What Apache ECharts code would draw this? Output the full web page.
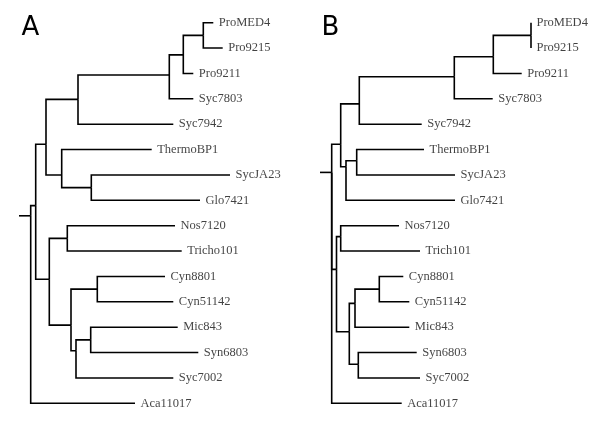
<!DOCTYPE html>
<html>
<head>
<meta charset="utf-8">
<script src="https://cdn.jsdelivr.net/npm/echarts@6/dist/echarts.min.js"></script>
<style>html,body{margin:0;padding:0;background:#fff;}#c{width:600px;height:423px;}</style>
</head>
<body>
<div id="c"></div>
<script>
// ---------- Tree A ----------
const leavesA = ['ProMED4','Pro9215','Pro9211','Syc7803','Syc7942','ThermoBP1','SycJA23','Glo7421','Nos7120','Tricho101','Cyn8801','Cyn51142','Mic843','Syn6803','Syc7002','Aca11017'];
const leafDepthA = [182.6,192,162.6,162.6,142.6,121,199.3,169.3,144.3,151,134.3,142.6,147,167.6,142.6,104.3];
const leafParentA = ['PM','PM','P3','P4','P5','Th','Th2','Th2','NT','NT','C2','C2','MS','MS','MSS','root'];
const nodeA = ['root','in','top','P5','P4','P3','PM','Th','Th2','bot','NT','cyn','C2','MSS','MS'];
const nodeParentA = [null,'root','in','top','P5','P4','P3','top','Th','in','bot','bot','cyn','cyn','MSS'];
const nodeDepthA = [0,5,15.3,47.3,138.6,152.6,172.6,31,60.6,18.6,36.6,40.3,66.6,45.3,60];
const nodeYA = [7.61,7.21,4.79,3.02,2.06,1.27,0.5,6.0,6.5,10.11,8.5,11.92,10.5,12.93,12.5];
const stubA = -11.7;

// ---------- Tree B ----------
const leavesB = ['ProMED4','Pro9215','Pro9211','Syc7803','Syc7942','ThermoBP1','SycJA23','Glo7421','Nos7120','Trich101','Cyn8801','Cyn51142','Mic843','Syn6803','Syc7002','Aca11017'];
const leafDepthB = [199.3,199.3,190,161,90,92.3,123.3,123.3,67.3,88.3,71.6,77.6,77.6,85,88.3,70];
const leafParentB = ['PM','PM','P3','P4','P5','Th2','Th2','Th','NT','NT','C2','C2','CMs','SS','SS','root'];
const nodeB = ['root','top','P5','P4','P3','PM','Th','Th2','bot','NT','cya','CMs','C2','SS'];
const nodeParentB = [null,'root','top','P5','P4','P3','top','Th','root','bot','bot','cya','CMs','cya'];
const nodeDepthB = [0,9,27.6,122.6,161.6,199.3,14.3,25,4.8,9,17.6,23.3,47.6,26.6];
const nodeYB = [5.9,4.79,3.2,2.13,1.34,0.5,5.68,5.44,9.72,8.43,12.18,11.06,10.5,13.46];
const stubB = -11.7;

const panelLabels = ['A','B'];

function buildEdges(leaves, leafDepth, leafParent, nodes, nodeParent, nodeDepth, nodeY, stub){
  const depth = {}, ypos = {};
  nodes.forEach((n,i)=>{depth[n]=nodeDepth[i]; ypos[n]=nodeY[i];});
  const edges = [];
  nodes.forEach((n,i)=>{
    const p = nodeParent[i];
    if(p) edges.push([depth[p], ypos[p], nodeY[i], nodeDepth[i]]);
    else edges.push([stub, nodeY[i], nodeY[i], nodeDepth[i]]);
  });
  leaves.forEach((l,i)=>{
    const p = leafParent[i];
    edges.push([depth[p], ypos[p], i, leafDepth[i]]);
  });
  return edges;
}
function buildLabels(leaves, leafDepth){
  return leaves.map((l,i)=>[leafDepth[i], i, l]);
}

const edgesA = buildEdges(leavesA, leafDepthA, leafParentA, nodeA, nodeParentA, nodeDepthA, nodeYA, stubA);
const edgesB = buildEdges(leavesB, leafDepthB, leafParentB, nodeB, nodeParentB, nodeDepthB, nodeYB, stubB);

function renderEdge(params, api){
  const a = api.coord([api.value(0), api.value(1)]);
  const b = api.coord([api.value(0), api.value(2)]);
  const c = api.coord([api.value(3), api.value(2)]);
  return {type:'polyline', shape:{points:[a,b,c]}, style:{stroke:'#000', lineWidth:1.6, fill:null, lineJoin:'miter', lineCap:'butt'}};
}

const chart = echarts.init(document.getElementById('c'), null, {renderer:'canvas'});
const labelStyle = {show:true, position:'right', distance:5.5, fontFamily:'Liberation Serif', fontSize:12.5, color:'#111', formatter:p=>p.value[2]};
chart.setOption({
  animation:false,
  grid:[
    {left:10.7, top:22.7, width:280, height:380.6},
    {left:311.7, top:22.7, width:280, height:380.6}
  ],
  xAxis:[
    {type:'value', gridIndex:0, min:-20, max:260, show:false},
    {type:'value', gridIndex:1, min:-20, max:260, show:false}
  ],
  yAxis:[
    {type:'value', gridIndex:0, min:0, max:15, inverse:true, show:false},
    {type:'value', gridIndex:1, min:0, max:15, inverse:true, show:false}
  ],
  graphic:[
    {type:'text', left:21.5, top:15, style:{text:panelLabels[0], font:'26px "DejaVu Sans"', fill:'#000'}},
    {type:'text', left:321.5, top:15, style:{text:panelLabels[1], font:'26px "DejaVu Sans"', fill:'#000'}}
  ],
  series:[
    {type:'custom', xAxisIndex:0, yAxisIndex:0, renderItem:renderEdge, data:edgesA, encode:{x:[0,3], y:[1,2]}, silent:true},
    {type:'custom', xAxisIndex:1, yAxisIndex:1, renderItem:renderEdge, data:edgesB, encode:{x:[0,3], y:[1,2]}, silent:true},
    {type:'scatter', xAxisIndex:0, yAxisIndex:0, symbolSize:0, data:buildLabels(leavesA, leafDepthA), label:labelStyle, silent:true},
    {type:'scatter', xAxisIndex:1, yAxisIndex:1, symbolSize:0, data:buildLabels(leavesB, leafDepthB), label:labelStyle, silent:true}
  ]
});
</script>
</body>
</html>
